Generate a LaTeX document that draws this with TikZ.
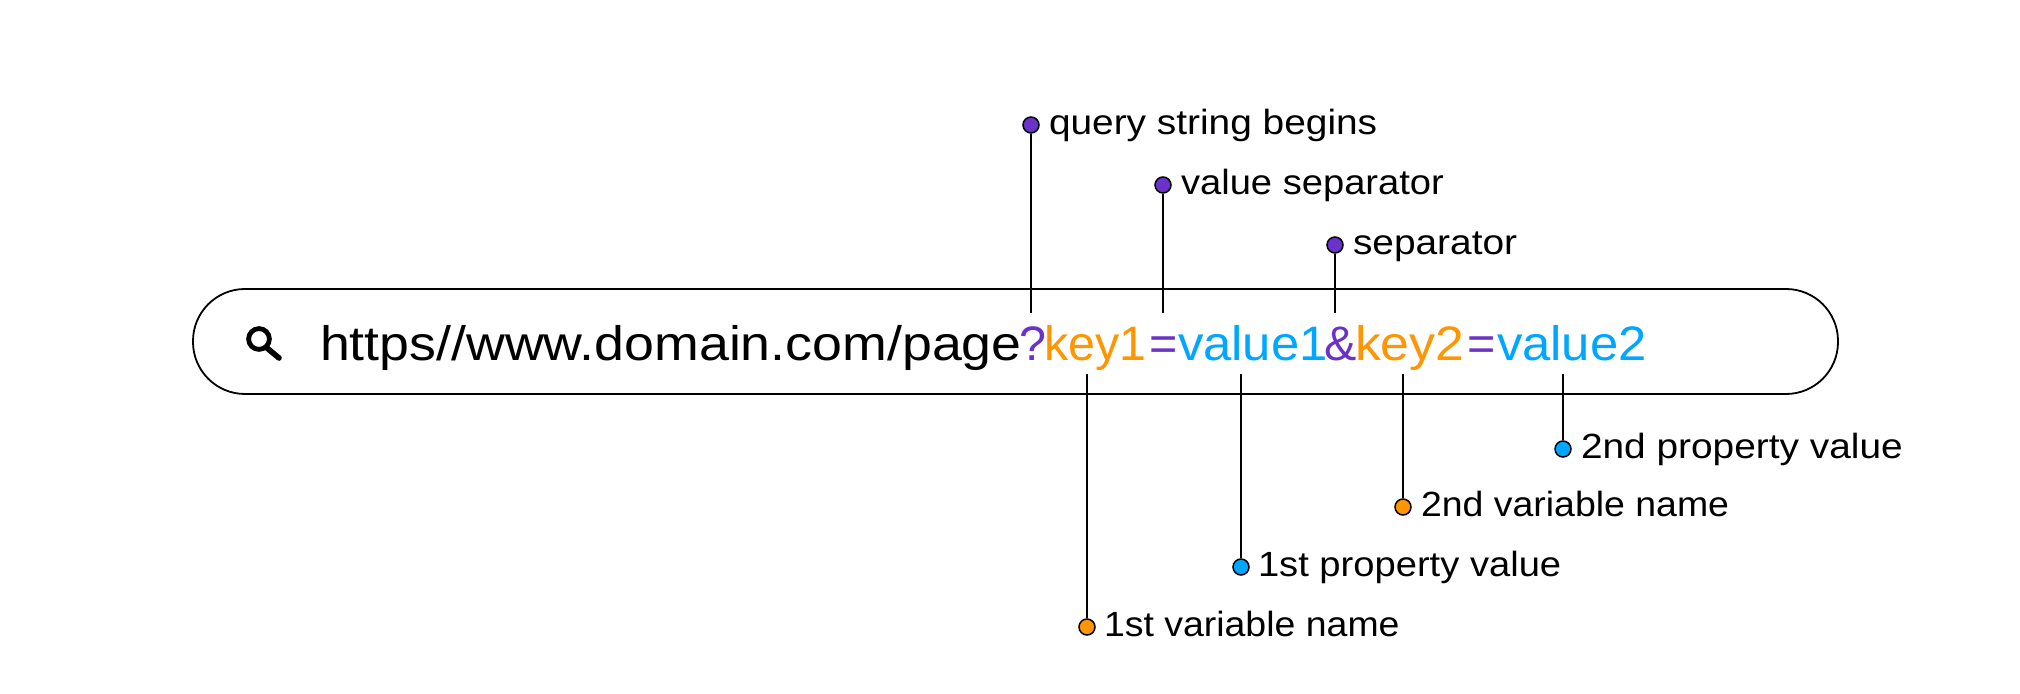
\documentclass[tikz,border=0pt]{standalone}
\usepackage{fontspec}
\setmainfont[FakeStretch=1.11]{Liberation Sans}
\newfontfamily\fsA[FakeStretch=1.09]{Liberation Sans}
\newfontfamily\fsB[FakeStretch=1.07]{Liberation Sans}
\newfontfamily\fsC[FakeStretch=1.05]{Liberation Sans}
\newfontfamily\fsD[FakeStretch=1.0]{Liberation Sans}
\definecolor{vio}{HTML}{6A32C9}
\definecolor{org}{HTML}{FF9500}
\definecolor{sky}{HTML}{00A6FF}
\tikzset{
  x=0.5pt,y=-0.5pt,
  lab/.style={anchor=base west,inner sep=0pt,outer sep=0pt,font=\fontsize{17.5}{20}\selectfont},
  url/.style={anchor=base west,inner sep=0pt,outer sep=0pt,font=\fontsize{24.2}{28}\selectfont},
  pin/.style={circle,draw=black,line width=0.75pt,minimum size=8pt,inner sep=0pt},
  lead/.style={line width=0.75pt,draw=black}
}
\begin{document}
\begin{tikzpicture}
\useasboundingbox (0,0) rectangle (2020,694);
\draw[line width=0.9pt,rounded corners=26pt] (193,289) rectangle (1838,394);
% search icon
\draw[line width=2.4pt] (259,339) circle (5.2pt);
\draw[line width=2.8pt,line cap=round] (267,348) -- (279,358);
% url
\node[url] (u0) at (320,361) {https//www.domain.com/page};
\node[url,text=vio] (u1) at (1019,361) {\fsD ?};
\node[url,text=org] (u2) at (1044,361) {\fsD key1};
\node[url,text=vio] (u3) at (1149,361) {\fsD =};
\node[url,text=sky] (u4) at (1178,361) {\fsC value1};
\node[url,text=vio] (u5) at (1324,361) {\fsD \&};
\node[url,text=org] (u6) at (1355,361) {\fsB key2};
\node[url,text=vio] (u7) at (1467,361) {\fsD =};
\node[url,text=sky] (u8) at (1497,361) {\fsC value2};
% pins
\coordinate (a1) at (1031,313); \coordinate (a2) at (1163,313); \coordinate (a3) at (1335,313);
\coordinate (b1) at (1087,374); \coordinate (b2) at (1241,374); \coordinate (b3) at (1403,374); \coordinate (b4) at (1563,374);
\node[pin,fill=vio] (p1) at (1031,125) {};
\node[pin,fill=vio] (p2) at (1163,185) {};
\node[pin,fill=vio] (p3) at (1335,245) {};
\node[pin,fill=org] (p4) at (1087,627) {};
\node[pin,fill=sky] (p5) at (1241,567) {};
\node[pin,fill=org] (p6) at (1403,507) {};
\node[pin,fill=sky] (p7) at (1563,449) {};
\draw[lead] (p1) -- (a1);
\draw[lead] (p2) -- (a2);
\draw[lead] (p3) -- (a3);
\draw[lead] (p4) -- (b1);
\draw[lead] (p5) -- (b2);
\draw[lead] (p6) -- (b3);
\draw[lead] (p7) -- (b4);
\node[lab] (t1) at (1049,135) {query string begins};
\node[lab] (t2) at (1181,195) {\fsA value separator};
\node[lab] (t3) at (1353,255) {separator};
\node[lab] (t4) at (1104,637) {\fsB 1st variable name};
\node[lab] (t5) at (1258,577) {\fsA 1st property value};
\node[lab] (t6) at (1421,517) {\fsB 2nd variable name};
\node[lab] (t7) at (1581,459) {2nd property value};
\end{tikzpicture}
\end{document}
